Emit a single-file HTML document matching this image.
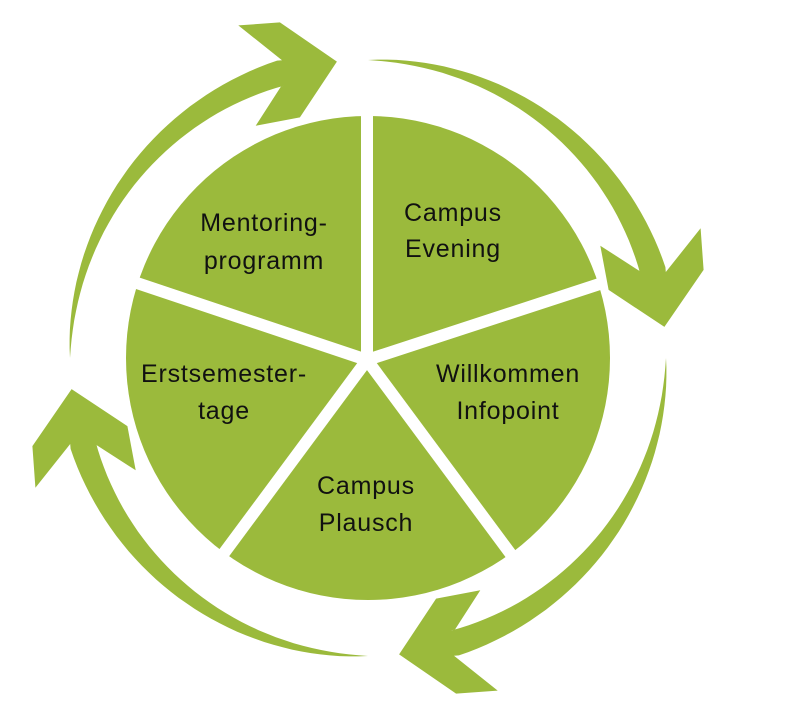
<!DOCTYPE html>
<html><head><meta charset="utf-8"><style>
html,body{margin:0;padding:0;background:#fff;width:800px;height:717px;overflow:hidden}
text{font-family:"Liberation Sans",sans-serif;font-size:25px;fill:#111;text-anchor:middle;letter-spacing:0.8px}
</style></head><body>
<svg id="s" width="800" height="717" viewBox="0 0 800 717" xmlns="http://www.w3.org/2000/svg">
<circle cx="368" cy="358" r="242" fill="#9bba3c"/>
<g stroke="#fff" stroke-width="12" stroke-linecap="butt">
<line x1="367" y1="360" x2="367" y2="90"/>
<line x1="367" y1="360" x2="113" y2="275"/>
<line x1="367" y1="360" x2="624" y2="276"/>
<line x1="367" y1="360" x2="207" y2="576"/>
<line x1="367" y1="360" x2="527" y2="576"/>
</g>
<circle cx="367" cy="360" r="7" fill="#fff"/>
<g id="arrows" fill="#9bba3c"></g>
<text x="264" y="231">Mentoring-</text>
<text x="264" y="269">programm</text>
<text x="453" y="221">Campus</text>
<text x="453" y="257">Evening</text>
<text x="508" y="382">Willkommen</text>
<text x="508" y="419">Infopoint</text>
<text x="224" y="382">Erstsemester-</text>
<text x="224" y="419">tage</text>
<text x="366" y="494">Campus</text>
<text x="366" y="531">Plausch</text>
</svg>
<script>
(function(){
var cx=368,cy=358,g=document.getElementById('arrows');
function P(a,r){a=a*Math.PI/180;return (cx+r*Math.cos(a)).toFixed(1)+','+(cy+r*Math.sin(a)).toFixed(1);}
for(var k=0;k<4;k++){
  var o=k*90,pts=[],i,n=40,a0=180,a1=253;
  for(i=0;i<=n;i++){var t=i/n,a=a0+(a1-a0)*t,w=26*Math.pow(t,0.85);pts.push(P(a+o,298+w/2));}
  pts.push(P(253.9+o,310));
  pts.push(P(248.7+o,357));
  pts.push(P(255.3+o,347));
  pts.push(P(264+o,298));
  pts.push(P(254.2+o,250));
  pts.push(P(244.2+o,258));
  pts.push(P(252.2+o,285));
  for(i=n;i>=0;i--){var t=i/n,a=a0+(a1-a0)*t,w=26*Math.pow(t,0.85);pts.push(P(a+o,298-w/2));}
  var p=document.createElementNS('http://www.w3.org/2000/svg','polygon');
  p.setAttribute('points',pts.join(' '));
  g.appendChild(p);
}
})();
</script>
</body></html>
